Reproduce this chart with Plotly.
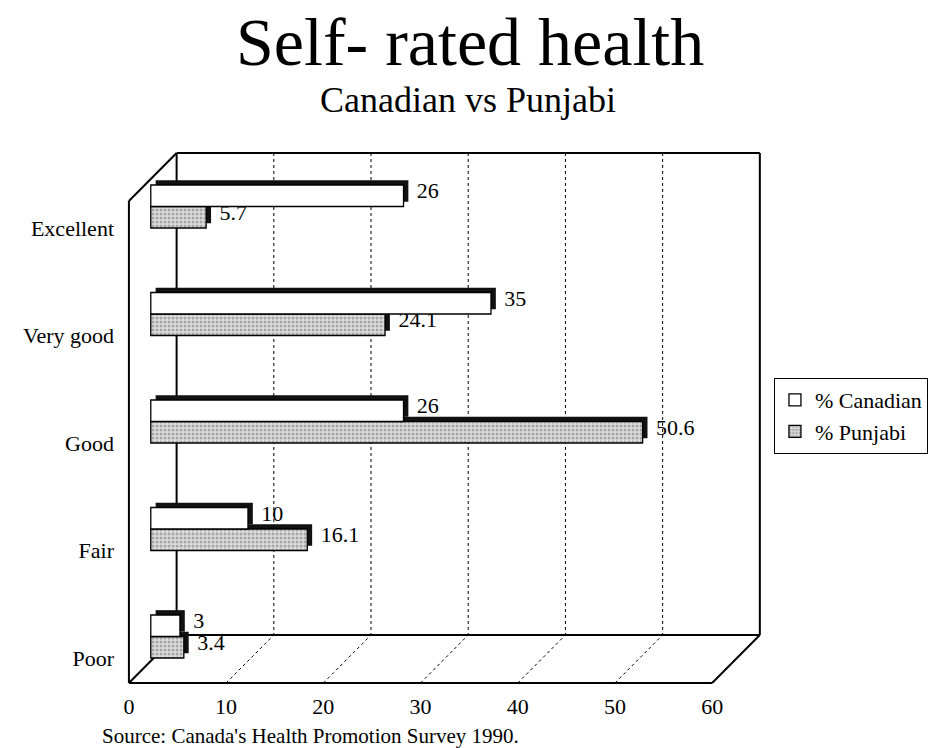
import plotly.graph_objects as go

# ---------------- data ----------------
categories = ["Excellent", "Very good", "Good", "Fair", "Poor"]
canadian = [26, 35, 26, 10, 3]
punjabi = [5.7, 24.1, 50.6, 16.1, 3.4]
x_ticks = [0, 10, 20, 30, 40, 50, 60]
grid_vals = [10, 20, 30, 40, 50]
x_max = 60

# ---------------- geometry (layout constants) ----------------
W, H = 940, 748
L, R, T, B = 115, 770, 140, 691          # plot area in pixels
PXU = 9.78                               # pixels per value unit
BAR0_PX = 151                            # where value 0 of the bars sits
FRONT0_PX = 129                          # front plane zero
BACK0_PX = 177                           # back wall zero
CAT_PX = 107.5                           # pixels per category
LAB0_PX = 658                            # centre of lowest category label

def vx(px):      # pixel -> bar value units
    return (px - BAR0_PX) / PXU

def vy(py):      # pixel -> category units
    return (LAB0_PX - py) / CAT_PX

FRONT0 = vx(FRONT0_PX)
BACK0 = vx(BACK0_PX)
FLOOR_F = vy(683)
FLOOR_B = vy(635)
TOP_B = vy(153)
TOP_F = vy(201)

BW = 0.2          # bar thickness (category units)
DX = 0.5          # bar extrusion (value units)
DY = 0.045        # bar extrusion (category units)

pos = list(range(len(categories) - 1, -1, -1))
FONT = "Liberation Serif, Times New Roman, serif"
NB = "\u00a0"

fig = go.Figure()

# extrusion (dark depth faces)
fig.add_trace(go.Bar(
    y=pos, x=punjabi, base=DX, offset=DY, width=BW, orientation="h",
    marker=dict(color="#111111", line=dict(width=0)),
    text=[NB + f"{v:g}" for v in punjabi], textposition="outside",
    textfont=dict(family=FONT, size=22, color="black"),
    constraintext="none", cliponaxis=False, showlegend=False, hoverinfo="skip"))
fig.add_trace(go.Bar(
    y=pos, x=canadian, base=DX, offset=BW + DY, width=BW, orientation="h",
    marker=dict(color="#111111", line=dict(width=0)),
    text=[NB + f"{v:g}" for v in canadian], textposition="outside",
    textfont=dict(family=FONT, size=22, color="black"),
    constraintext="none", cliponaxis=False, showlegend=False, hoverinfo="skip"))

# front faces
fig.add_trace(go.Bar(
    y=pos, x=punjabi, offset=0, width=BW, orientation="h", name="% Punjabi",
    marker=dict(color="#d8d8d8", line=dict(color="black", width=1.3),
                pattern=dict(shape=".", fgcolor="#707070", bgcolor="#dcdcdc",
                             size=4, solidity=0.45)),
    legendrank=2, legendgroup="p"))
fig.add_trace(go.Bar(
    y=pos, x=canadian, offset=BW, width=BW, orientation="h", name="% Canadian",
    marker=dict(color="white", line=dict(color="black", width=1.3)),
    legendrank=1, legendgroup="c"))

# invisible carrier so the front-plane tick axis is drawn
fig.add_trace(go.Scatter(
    x=x_ticks, y=[pos[-1]] * len(x_ticks), xaxis="x2", yaxis="y",
    mode="markers", marker=dict(opacity=0), showlegend=False, hoverinfo="skip"))

# ---------------- 3D frame ----------------
shapes = []
solid = dict(color="black", width=2)
dotted = dict(color="black", width=1, dash="dot")

def seg(x0, y0, x1, y1, line):
    shapes.append(dict(type="line", xref="x", yref="y", x0=x0, y0=y0,
                       x1=x1, y1=y1, line=line, layer="below"))

# back wall and floor outline
seg(BACK0, TOP_B, BACK0 + x_max, TOP_B, solid)
seg(BACK0 + x_max, TOP_B, BACK0 + x_max, FLOOR_B, solid)
seg(BACK0, TOP_B, BACK0, FLOOR_B, solid)
seg(BACK0, FLOOR_B, BACK0 + x_max, FLOOR_B, solid)
seg(FRONT0, FLOOR_F, FRONT0 + x_max, FLOOR_F, solid)
seg(FRONT0 + x_max, FLOOR_F, BACK0 + x_max, FLOOR_B, solid)
seg(FRONT0, FLOOR_F, BACK0, FLOOR_B, solid)
# left side wall
seg(FRONT0, FLOOR_F, FRONT0, TOP_F, solid)
seg(FRONT0, TOP_F, BACK0, TOP_B, solid)
# gridlines on back wall and floor
for g in grid_vals:
    seg(BACK0 + g, TOP_B, BACK0 + g, FLOOR_B, dotted)
    seg(FRONT0 + g, FLOOR_F, BACK0 + g, FLOOR_B, dotted)

def paper_x(px):
    return (px - L) / (R - L)

def paper_y(py):
    return (B - py) / (B - T)

annotations = [
    dict(text="Self- rated health", x=paper_x(472), y=paper_y(42), xref="paper",
         yref="paper", showarrow=False, xanchor="center", yanchor="middle",
         font=dict(family=FONT, size=68, color="black")),
    dict(text="Canadian vs Punjabi", x=paper_x(470), y=paper_y(100), xref="paper",
         yref="paper", showarrow=False, xanchor="center", yanchor="middle",
         font=dict(family=FONT, size=36, color="black")),
    dict(text="Source: Canada's Health Promotion Survey 1990.", x=paper_x(100),
         y=paper_y(736), xref="paper", yref="paper", showarrow=False,
         xanchor="left", yanchor="middle",
         font=dict(family=FONT, size=21, color="black")),
]

fig.update_layout(
    width=W, height=H,
    margin=dict(l=L, r=W - R, t=T, b=H - B, pad=0),
    paper_bgcolor="white", plot_bgcolor="rgba(0,0,0,0)",
    barmode="overlay",
    font=dict(family=FONT, size=22, color="black"),
    xaxis=dict(range=[vx(L), vx(R)], showgrid=False, zeroline=False,
               showticklabels=False, showline=False, ticks=""),
    xaxis2=dict(overlaying="x", anchor="y", side="bottom",
                range=[(L - FRONT0_PX) / PXU, (R - FRONT0_PX) / PXU],
                tickmode="array", tickvals=x_ticks,
                ticktext=[str(t) for t in x_ticks],
                showgrid=False, zeroline=False, showline=False, ticks="",
                tickfont=dict(family=FONT, size=22, color="black")),
    yaxis=dict(range=[vy(B), vy(T)], tickmode="array", tickvals=pos,
               ticktext=categories, showgrid=False, zeroline=False,
               showline=False, ticks="",
               tickfont=dict(family=FONT, size=22, color="black")),
    legend=dict(x=paper_x(778), y=paper_y(378), xanchor="left", yanchor="top",
                bordercolor="black", borderwidth=1, bgcolor="white",
                font=dict(family=FONT, size=22, color="black"),
                tracegroupgap=16, traceorder="normal"),
    shapes=shapes, annotations=annotations, showlegend=True,
)

fig.write_html(
    "out.html",
    config={"displayModeBar": False},
    post_script="document.body.style.margin='0';document.body.style.overflow='hidden';",
)
